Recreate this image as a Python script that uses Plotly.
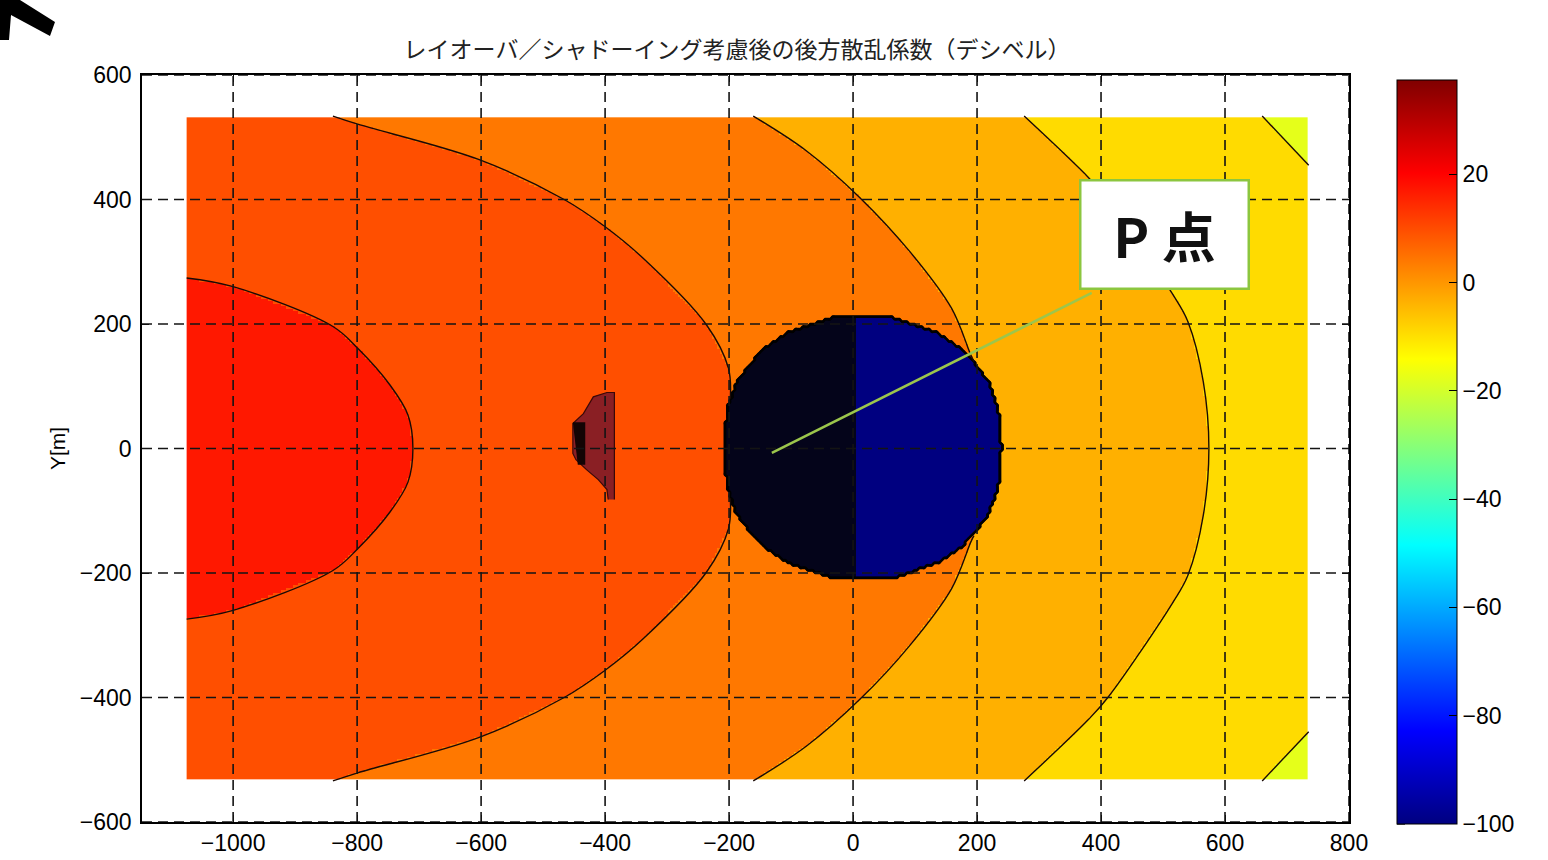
import numpy as np
import plotly.graph_objects as go

# ---------------- texts / ticks ----------------
TITLE = "レイオーバ／シャドーイング考慮後の後方散乱係数（デシベル）"
Y_LABEL = "Y[m]"
P_TEXT = "P 点"
X_TICKS = [-1000, -800, -600, -400, -200, 0, 200, 400, 600, 800]
Y_TICKS = [-600, -400, -200, 0, 200, 400, 600]
CB_TICKS = [-100, -80, -60, -40, -20, 0, 20]
X_RANGE = [-1147, 800]
Y_RANGE = [-600, 600]
C_RANGE = [-100, 37.4]

# extent of the computed scene (m)
SCENE_X = [-1075, 735]
SCENE_Y = [-532, 532]
CELL = 4

# backscatter coefficient (dB) of each band, innermost (left) to outermost (right)
BAND_DB = [17.0, 9.6, 4.1, -3.5, -9.3, -17.6]
SHADOW_DB = -100.0

# contour lines: |Y| (m) -> X (m)
CONT_A_Y = [0, 54, 102, 161, 196, 260, 274]
CONT_A_X = [-710, -718, -747, -799, -839, -1000, -1075]
CONT_B_Y = [0, 80, 129, 198, 306, 357, 400, 464, 521, 534]
CONT_B_X = [-196, -198, -201, -236, -339, -401, -466, -603, -799, -839]
CONT_C_Y = [0, 140, 150, 225, 317, 403, 478, 534]
CONT_C_X = [212, 195, 190, 159, 91, 11, -75, -161]
CONT_D_Y = [0, 107, 204, 247, 400, 435, 534]
CONT_D_X = [574, 565, 540, 516, 411, 380, 276]
CONT_E_Y = [455, 534]
CONT_E_X = [735, 660]

# radar shadow disc: centre, |dY| -> half width (m)
SHADOW_CX = 15.5
SHADOW_CY = 1.0
SHADOW_DY = [0, 62, 105, 131, 158, 185, 209]
SHADOW_HW = [224, 219, 204, 185, 161, 121, 50]
SHADOW_SPLIT_X = 6

# layover patch: Y -> left edge X (m), right edge X
LAYOVER_Y = [-82, -66, -50, -34, -18, -8, 40, 56, 83, 90]
LAYOVER_XL = [-395, -397, -411, -430, -447, -452, -452, -435, -419, -397]
LAYOVER_XR = -385
LAYOVER_CORE_Y = [42, 42, -26, -26]
LAYOVER_CORE_X = [-452, -432, -432, -444]

# P point annotation
P_POINT = (-131, -7)
P_LINE_END = (385, 250)
P_LABEL = (503, 344)

JET = [[0.0, "rgb(0,0,128)"], [0.125, "rgb(0,0,255)"], [0.375, "rgb(0,255,255)"],
       [0.625, "rgb(255,255,0)"], [0.875, "rgb(255,0,0)"], [1.0, "rgb(128,0,0)"]]

# page geometry (px)
W, H = 1548, 860
PL, PR, PT, PB = 142, 1349, 75, 822
CB_L, CB_W, CB_T, CB_B = 1397, 60, 80, 824

# ---------------- band field ----------------
xs = np.arange(SCENE_X[0] + CELL / 2, SCENE_X[1], CELL)
ys = np.arange(SCENE_Y[0] + CELL / 2, SCENE_Y[1], CELL)
X, Y = np.meshgrid(xs, ys)
AY = np.abs(Y)
idx = np.zeros(X.shape, dtype=int)
contours = [
    (CONT_A_Y, CONT_A_X, -np.inf, -np.inf),
    (CONT_B_Y, CONT_B_X, -np.inf, -np.inf),
    (CONT_C_Y, CONT_C_X, -np.inf, -np.inf),
    (CONT_D_Y, CONT_D_X, -np.inf, -np.inf),
    (CONT_E_Y, CONT_E_X, np.inf, np.inf),
]
for cy, cx, lo, hi in contours:
    xc = np.interp(AY, cy, cx, left=lo, right=hi)
    idx += (X > xc).astype(int)
Z = np.array(BAND_DB)[idx]


def in_shadow(x, y):
    hw = np.interp(np.abs(np.asarray(y, float) - SHADOW_CY), SHADOW_DY, SHADOW_HW, right=-1.0)
    return np.abs(np.asarray(x, float) - SHADOW_CX) <= hw


SH = in_shadow(X, Y)
Z = np.where(SH, SHADOW_DB, Z)
DARK = np.where(SH & (X < SHADOW_SPLIT_X), 1.0, np.nan)

fig = go.Figure()
fig.add_trace(go.Heatmap(
    z=Z, x0=xs[0], dx=CELL, y0=ys[0], dy=CELL,
    colorscale=JET, zmin=C_RANGE[0], zmax=C_RANGE[1], hoverinfo="skip",
    colorbar=dict(
        x=(CB_L - PL) / (PR - PL), xanchor="left", xpad=0, ypad=0,
        y=(PB - (CB_T + CB_B) / 2) / (PB - PT), yanchor="middle",
        thickness=CB_W, thicknessmode="pixels", len=CB_B - CB_T, lenmode="pixels",
        outlinecolor="black", outlinewidth=1,
        tickvals=CB_TICKS, ticks="inside", ticklen=8, tickcolor="black",
        tickfont=dict(family="Liberation Sans", size=23, color="black"),
    ),
))
# the dense-contour (nearly black) half of the shadow
fig.add_trace(go.Heatmap(
    z=DARK, x0=xs[0], dx=CELL, y0=ys[0], dy=CELL,
    colorscale=[[0, "#04041a"], [1, "#04041a"]], showscale=False, hoverinfo="skip"))

# black rim round the shadow: contour lines of the field below the band values
for lev in [-25, -40, -55, -70, -85]:
    fig.add_trace(go.Contour(
        z=Z, x0=xs[0], dx=CELL, y0=ys[0], dy=CELL, showscale=False, hoverinfo="skip",
        contours=dict(start=lev, end=lev, size=1, coloring="none"),
        line=dict(color="black", width=1.4, smoothing=1.0)))


def mirrored(cy, cx):
    yy = [-v for v in cy[::-1]] + list(cy[1:])
    xx = list(cx[::-1]) + list(cx[1:])
    inside = in_shadow(xx, yy)
    xx = [None if m else v for v, m in zip(xx, inside)]
    yy = [None if m else v for v, m in zip(yy, inside)]
    return xx, yy


LINE = dict(color="#1a0a05", width=1.4, shape="spline")
for cy, cx in [(CONT_A_Y, CONT_A_X), (CONT_B_Y, CONT_B_X), (CONT_C_Y, CONT_C_X), (CONT_D_Y, CONT_D_X)]:
    xx, yy = mirrored(cy, cx)
    fig.add_trace(go.Scatter(x=xx, y=yy, mode="lines", line=LINE, connectgaps=False,
                             hoverinfo="skip", showlegend=False))
fig.add_trace(go.Scatter(
    x=list(CONT_E_X) + [None] + list(CONT_E_X),
    y=list(CONT_E_Y) + [None] + [-v for v in CONT_E_Y],
    mode="lines", line=dict(color="#1a0a05", width=1.4), hoverinfo="skip", showlegend=False))

# ---------------- layover patch ----------------
lx = list(LAYOVER_XL) + [LAYOVER_XR, LAYOVER_XR]
ly = list(LAYOVER_Y) + [LAYOVER_Y[-1], LAYOVER_Y[0]]
fig.add_trace(go.Scatter(x=lx, y=ly, mode="lines", fill="toself", fillcolor="#8a1f24",
                         line=dict(color="#3a0808", width=1.2), hoverinfo="skip", showlegend=False))
fig.add_trace(go.Scatter(x=LAYOVER_CORE_X, y=LAYOVER_CORE_Y, mode="lines", fill="toself", fillcolor="#140404",
                         line=dict(color="#140404", width=0), hoverinfo="skip", showlegend=False))

# ---------------- grid (dashed, drawn above the image like MATLAB) ----------------
shapes = []
grid_line = dict(color="#141414", width=1.6, dash="10px,6px")
for v in X_TICKS:
    shapes.append(dict(type="line", xref="x", yref="y", x0=v, x1=v, y0=Y_RANGE[0], y1=Y_RANGE[1],
                       line=grid_line, layer="above"))
for v in Y_TICKS:
    shapes.append(dict(type="line", xref="x", yref="y", x0=X_RANGE[0], x1=X_RANGE[1], y0=v, y1=v,
                       line=grid_line, layer="above"))
shapes.append(dict(type="line", xref="x", yref="y", x0=P_POINT[0], y0=P_POINT[1],
                   x1=P_LINE_END[0], y1=P_LINE_END[1],
                   line=dict(color="#9cc64c", width=2.5), layer="above"))


def px2paper(px, py):
    return (px - PL) / (PR - PL), (PB - py) / (PB - PT)


# colorbar ticks on the left edge as well (MATLAB draws both sides)
for v in CB_TICKS:
    py = CB_T + (C_RANGE[1] - v) / (C_RANGE[1] - C_RANGE[0]) * (CB_B - CB_T)
    u0, w0 = px2paper(CB_L, py)
    u1, _ = px2paper(CB_L + 8, py)
    shapes.append(dict(type="line", xref="paper", yref="paper", x0=u0, x1=u1, y0=w0, y1=w0,
                       line=dict(color="black", width=1.3), layer="above"))

# black mark in the top-left corner (cropped arrow)
mark = [(0, 0), (20, 0), (55, 22), (50, 36), (11, 15), (9, 40), (0, 40)]
path = ""
for k, (a, b) in enumerate(mark):
    u, w = px2paper(a, b)
    path += ("M" if k == 0 else "L") + f"{u:.5f},{w:.5f} "
path += "Z"
shapes.append(dict(type="path", xref="paper", yref="paper", path=path,
                   fillcolor="black", line=dict(color="black", width=0), layer="above"))

axis_common = dict(showline=True, linecolor="black", linewidth=1.5, mirror="allticks",
                   ticks="inside", ticklen=7, tickwidth=1.3, tickcolor="black",
                   showgrid=False, zeroline=False, automargin=False,
                   tickfont=dict(family="Liberation Sans", size=23, color="black"))

fig.update_layout(
    width=W, height=H, autosize=False,
    margin=dict(l=PL, r=W - PR, t=PT, b=H - PB, autoexpand=False),
    paper_bgcolor="white", plot_bgcolor="white",
    showlegend=False,
    title=dict(text=TITLE, x=737 / W, xanchor="center", y=1 - 50 / H, yanchor="middle",
               yref="container", font=dict(family="Noto Sans CJK JP", size=23, color="#222222")),
    xaxis=dict(range=X_RANGE, tickvals=X_TICKS, **axis_common),
    yaxis=dict(range=Y_RANGE, tickvals=Y_TICKS, ticklabelstandoff=4, **axis_common),
    shapes=shapes,
    annotations=[
        dict(text=Y_LABEL, xref="paper", yref="paper", x=(57 - PL) / (PR - PL), y=0.4993,
             xanchor="center", yanchor="middle", textangle=-90, showarrow=False,
             font=dict(family="Liberation Sans", size=21, color="black")),
        dict(text="<b>" + P_TEXT + "</b>", xref="x", yref="y", x=P_LABEL[0], y=P_LABEL[1],
             showarrow=False, bgcolor="white", bordercolor="#8cc63f", borderwidth=2.5, borderpad=1,
             width=164, height=104, align="center", valign="middle",
             font=dict(family="Noto Sans CJK JP", size=54, color="#111111")),
    ],
)

fig.write_html("out.html", config={"displayModeBar": False},
               post_script="document.body.style.margin='0px';")
